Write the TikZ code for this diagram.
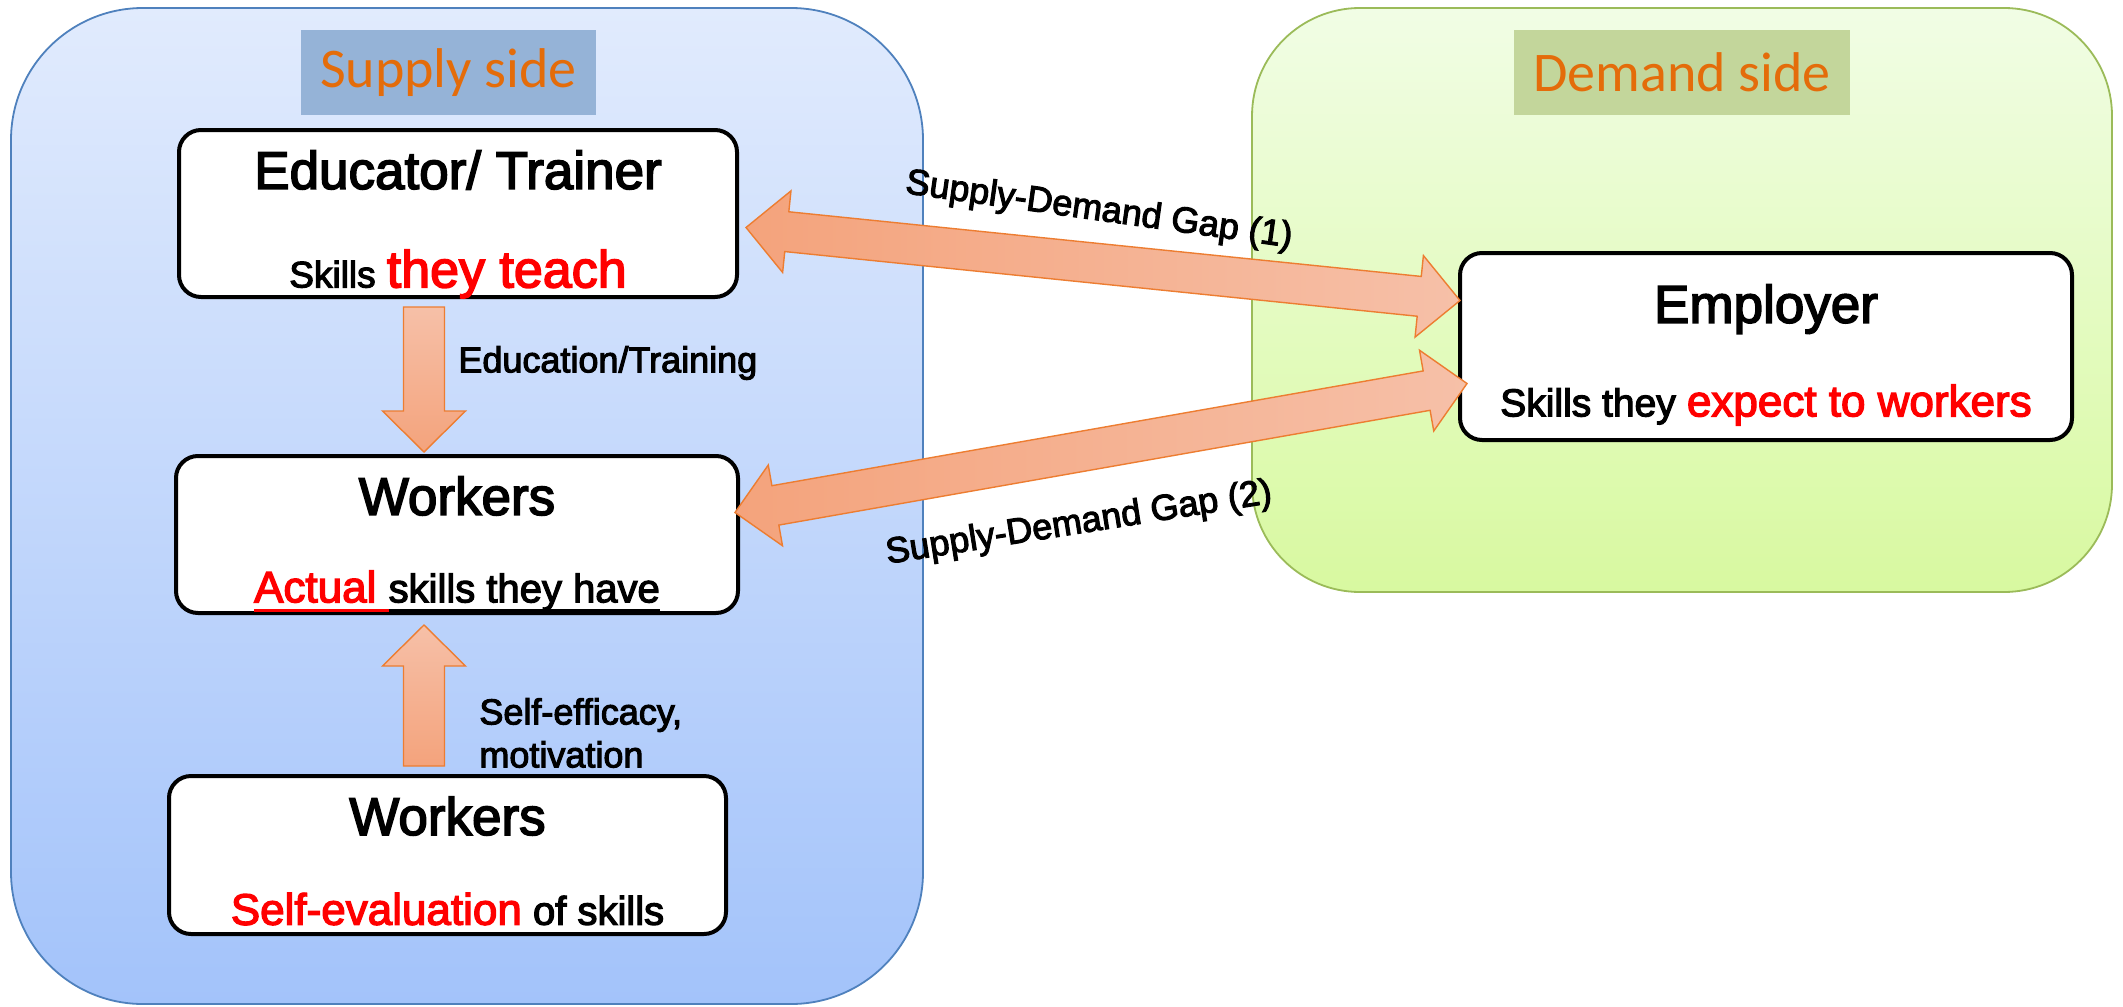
\documentclass[tikz,border=0pt]{standalone}
\usepackage{fontspec}
\setmainfont{Liberation Sans}[FakeBold=3]
\newfontfamily\headfont{Carlito}
\usetikzlibrary{calc,positioning}
\definecolor{hdorange}{RGB}{228,108,10}
\definecolor{supplyhd}{RGB}{149,179,215}
\definecolor{demandhd}{RGB}{195,214,155}
\definecolor{supplytop}{RGB}{225,235,253}
\definecolor{supplybot}{RGB}{163,195,250}
\definecolor{supplyline}{RGB}{79,129,189}
\definecolor{demandtop}{RGB}{241,253,229}
\definecolor{demandbot}{RGB}{216,249,160}
\definecolor{demandline}{RGB}{155,187,89}
\definecolor{arrowdark}{RGB}{244,163,124}
\definecolor{arrowlight}{RGB}{246,192,168}
\definecolor{arrowline}{RGB}{237,125,49}

\newcommand{\ulbar}[1]{\setbox0\hbox{#1}\rlap{\vrule height -3.2pt depth 4.6pt width \wd0}\box0}
\newcommand{\onearrow}[3]{%
  \path (#1) coordinate (t0) (#2) coordinate (t1) ($(t1)!20.5pt!(t0)$) coordinate (t2);
  \draw[fatarrow,#3] ($(t0)!10.25pt!90:(t1)$) -- ($(t2)!10.25pt!90:(t1)$) -- ($(t2)!20.75pt!90:(t1)$)
    -- (t1) -- ($(t2)!20.75pt!-90:(t1)$) -- ($(t2)!10.25pt!-90:(t1)$) -- ($(t0)!10.25pt!-90:(t1)$) -- cycle;}
\newcommand{\twoarrow}[3]{%
  \path (#1) coordinate (t0) (#2) coordinate (t1) ($(t0)!20.5pt!(t1)$) coordinate (t3)
    ($(t1)!20.5pt!(t0)$) coordinate (t2);
  \draw[fatarrow,#3] (t0) -- ($(t3)!20.5pt!90:(t1)$) -- ($(t3)!10pt!90:(t1)$) -- ($(t2)!10pt!90:(t1)$)
    -- ($(t2)!20.5pt!90:(t1)$) -- (t1) -- ($(t2)!20.5pt!-90:(t1)$) -- ($(t2)!10pt!-90:(t1)$)
    -- ($(t3)!10pt!-90:(t1)$) -- ($(t3)!20.5pt!-90:(t1)$) -- cycle;}

\begin{document}
\begin{tikzpicture}[x=0.5pt,y=-0.5pt,
  box/.style={draw,line width=2pt,rounded corners=11pt,fill=white,inner sep=0},
  title/.style={font=\fontsize{26.5}{30}\selectfont},
  sub/.style={font=\fontsize{20}{24}\selectfont},
  hdr/.style={inner sep=0,text=hdorange,font=\headfont\fontsize{28}{32}\selectfont},
  lbl/.style={font=\fontsize{18}{21.5}\selectfont,inner sep=0},
  fatarrow/.style={draw=arrowline,line width=0.7pt,line join=miter}]
\useasboundingbox (0,0) rectangle (2123,1006);
\fill[white] (0,0) rectangle (2123,1006);

\draw[supplyline,line width=0.9pt,top color=supplytop,bottom color=supplybot,rounded corners=66pt]
  (11,8) rectangle (923,1004);
\draw[demandline,line width=0.9pt,top color=demandtop,bottom color=demandbot,rounded corners=54pt]
  (1252,8) rectangle (2112,592);

\node[hdr,fill=supplyhd,minimum width=147.5pt,minimum height=42.5pt] (sup) at (448.5,72.5) {Supply side};
\node[hdr,fill=demandhd,minimum width=168pt,minimum height=42.5pt] (dem) at (1682,72.5) {Demand side};

\node[box,minimum width=279pt,minimum height=83.5pt] (edu) at (458,213.5) {};
\node[box,minimum width=281pt,minimum height=78.5pt] (wk) at (457,534.5) {};
\node[box,minimum width=278.5pt,minimum height=79pt] (wk2) at (447.5,855) {};
\node[box,minimum width=306pt,minimum height=93.5pt] (emp) at (1766,346.5) {};

\node[title] (edu-t) at ($(edu.north)+(0,42)$) {Educator/ Trainer};
\node[sub] (edu-s) at ($(edu.south)+(0,-25)$) {{\fontsize{18.5}{20}\selectfont Skills} \textcolor{red}{\fontsize{26}{30}\selectfont they teach}};
\node[title] (wk-t) at ($(wk.north)+(0,42)$) {Workers};
\node[sub] (wk-s) at ($(wk.south)+(0,-24)$) {{\color{red}\fontsize{22}{26}\selectfont\ulbar{Actual\ }}\ulbar{skills they have}};
\node[title] (wk2-t) at ($(wk2.north)+(0,42)$) {Workers};
\node[sub] (wk2-s) at ($(wk2.south)+(0,-27)$) {\textcolor{red}{\fontsize{22}{26}\selectfont Self-evaluation} of skills};
\node[title] (emp-t) at ($(emp.north)+(0,58)$) {Employer};
\node[sub] (emp-s) at ($(emp.south)+(0,-37)$) {{\fontsize{19.5}{24}\selectfont Skills they} \textcolor{red}{\fontsize{22}{26}\selectfont expect to workers}};

\coordinate (g1a) at ($(edu.east)+(7,14)$);
\coordinate (g1b) at ($(emp.west)+(2,-46)$);
\coordinate (g2a) at ($(wk.east)+(-5,-22)$);
\coordinate (g2b) at ($(emp.west)+(9,37)$);
\onearrow{$(edu.south)+(-34,8)$}{$(wk.north)+(-33,-2)$}{top color=arrowlight,bottom color=arrowdark}
\onearrow{$(wk2.north)+(-23.5,-8)$}{$(wk.south)+(-33,10)$}{top color=arrowlight,bottom color=arrowdark}
\twoarrow{g1a}{g1b}{left color=arrowdark,right color=arrowlight}
\twoarrow{g2a}{g2b}{left color=arrowdark,right color=arrowlight}

\node[lbl,anchor=west] (edlbl) at (458,363) {Education/Training};
\node[lbl,anchor=west,align=left] (mot) at (479,733) {Self-efficacy,\\motivation};
\node[lbl,rotate=-8] (gap1) at ($(g1a)!0.5!(g1b)+(-4,-53)$) {Supply-Demand Gap (1)};
\node[lbl,rotate=9] (gap2) at ($(g2a)!0.5!(g2b)+(-22,76)$) {Supply-Demand Gap (2)};
\end{tikzpicture}
\end{document}
